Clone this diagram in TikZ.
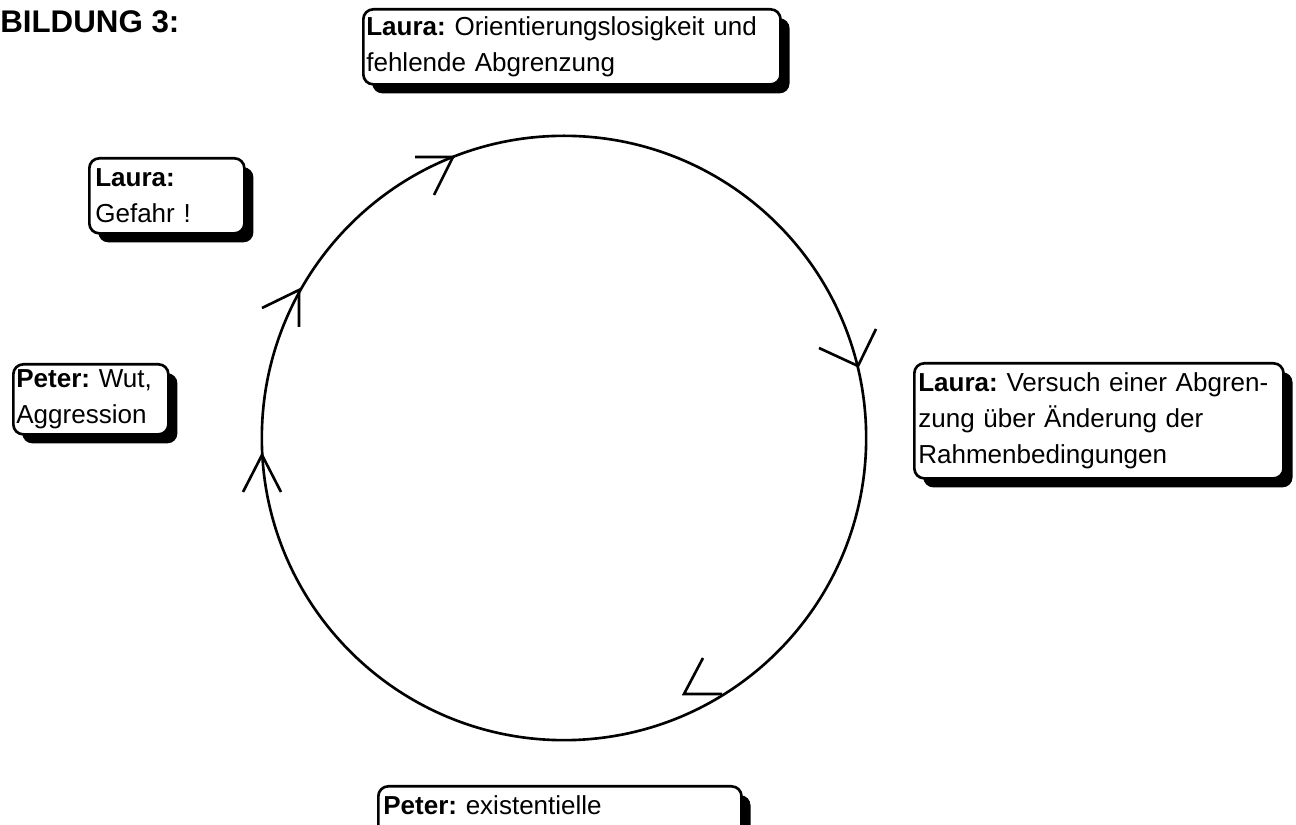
\documentclass[tikz,border=0pt]{standalone}
\usepackage{fontspec}
\setmainfont{Liberation Sans}
\frenchspacing
\usetikzlibrary{shadows}

\begin{document}
\begin{tikzpicture}[x=0.01cm, y=-0.01cm, line width=0.75pt,
	kasten/.style={draw, fill=white, rounded corners=0.1cm, anchor=north west,
		align=left, inner ysep=0pt, font=\fontsize{7.4pt}{10.2pt}\selectfont,
		drop shadow={shadow xshift=0.09cm, shadow yshift=-0.09cm, opacity=1, fill=black}}]
	\useasboundingbox (0,0) rectangle (1296,825);

	\node[anchor=base west, inner sep=0pt, font=\fontsize{8.9pt}{10pt}\selectfont\bfseries]
		(titel) at (-1,33) {BILDUNG 3:};

	% Kreislauf
	\draw (564,438) circle [radius=3.02cm];

	\coordinate (s1) at (453,157);
	\coordinate (s2) at (858,366);
	\coordinate (s3) at (684,694);
	\coordinate (s4) at (262,455);
	\coordinate (s5) at (299,290);

	\draw (415,157) -- (s1) -- (434,195);
	\draw (819,348) -- (s2) -- (876,329);
	\draw (703,658) -- (s3) -- (722,694);
	\draw (243,492) -- (s4) -- (281,492);
	\draw (262,308) -- (s5) -- (299,327);

	% Kaesten
	\node[kasten, inner xsep=0.03cm, text width=4.11cm, minimum height=0.75cm]
		(orient) at (362,8) {\textbf{Laura:} Orientierungslosigkeit und\\fehlende Abgrenzung};
	\node[kasten, inner xsep=0.06cm, text width=1.43cm, minimum height=0.75cm]
		(gefahr) at (88,157) {\textbf{Laura:}\\Gefahr !};
	\node[kasten, inner xsep=0.03cm, text width=1.49cm, minimum height=0.70cm]
		(wut) at (12,363) {\textbf{Peter:} Wut,\\Aggression};
	\node[kasten, inner xsep=0.04cm, text width=3.61cm, minimum height=1.15cm]
		(versuch) at (913,362) {\textbf{Laura:} Versuch einer Abgren-\\zung über Änderung der\\Rahmenbedingungen};
	\node[kasten, inner xsep=0.05cm, inner ysep=0.08cm, text width=3.53cm,
		text height=0.20cm, text depth=0.6cm]
		(angst) at (377,785) {\textbf{Peter:} existentielle};
\end{tikzpicture}
\end{document}
